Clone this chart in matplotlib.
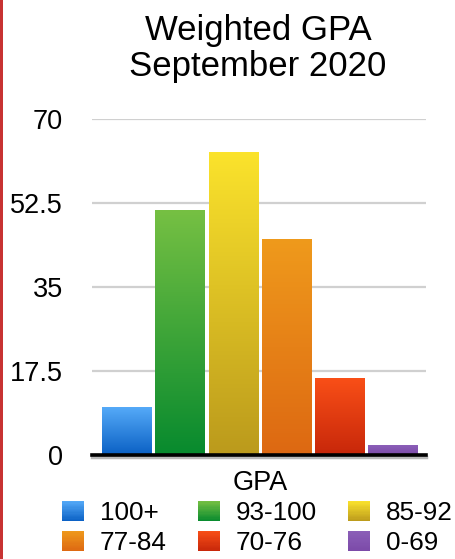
import numpy as np
import matplotlib
matplotlib.use("Agg")
import matplotlib.pyplot as plt
from matplotlib.patches import Rectangle
from matplotlib.colors import LinearSegmentedColormap, to_rgb
from matplotlib.legend_handler import HandlerBase

plt.rcParams["font.family"] = ["Liberation Sans", "DejaVu Sans"]

# data
labels = ["100+", "93-100", "85-92", "77-84", "70-76", "0-69"]
counts = [10, 51, 63, 45, 16, 2]
category = "GPA"
yticks = [0, 17.5, 35, 52.5, 70]
ytick_labels = ["0", "17.5", "35", "52.5", "70"]

# gradient colours (top, bottom) per series
grad_top = ["#55aaf8", "#76c043", "#fbe32c", "#ef9a1c", "#f94f17", "#8b5fb8"]
grad_bot = ["#0a60c4", "#078a2e", "#bb9a1c", "#dd6812", "#c7270a", "#7c4aa8"]

fs = 19.5
leg_fs = 18.8

fig = plt.figure(figsize=(4.55, 5.59), dpi=100)
ax = fig.add_axes([92 / 455, 1 - 455 / 559, (426 - 92) / 455, (455 - 119) / 559])

x = np.arange(len(counts))
width = 0.92
bars = ax.bar(x, counts, width, color="none", zorder=2)

# fill each bar with a vertical gradient
for b, top, bot in zip(bars, grad_top, grad_bot):
    cmap = LinearSegmentedColormap.from_list("g", [bot, top])
    x0, y0 = b.get_x(), b.get_y()
    w, h = b.get_width(), b.get_height()
    grad = np.linspace(0, 1, 256).reshape(-1, 1)
    ax.imshow(grad, cmap=cmap, origin="lower", aspect="auto",
              extent=(x0, x0 + w, y0, y0 + h), zorder=2)

ax.set_xlim(-0.65, 5.62)
ax.set_ylim(0, 70)

ax.set_yticks(yticks)
ax.set_yticklabels(ytick_labels, fontsize=fs)
ax.tick_params(axis="y", length=0, pad=21)
ax.set_xticks([x.mean()])
ax.set_xticklabels([category], fontsize=fs)
ax.tick_params(axis="x", length=0, pad=11)

ax.grid(axis="y", color="#d0d0d0", linewidth=1.6, zorder=0)
for s in ax.spines.values():
    s.set_visible(False)
ax.axhline(-0.35, color="#b8b8b8", linewidth=2.5, zorder=3, clip_on=False)
ax.axhline(0, color="black", linewidth=2.6, zorder=4, clip_on=False)


class GradHandler(HandlerBase):
    def create_artists(self, legend, orig_handle, xdescent, ydescent,
                       width, height, fontsize, trans):
        top, bot = orig_handle
        top, bot = np.array(to_rgb(top)), np.array(to_rgb(bot))
        n = 16
        arts = []
        for i in range(n):
            t = (i + 0.5) / n
            c = bot * (1 - t) + top * t
            r = Rectangle((-xdescent, -ydescent + i * height / n), width,
                          height / n + 0.05, facecolor=c, edgecolor="none",
                          transform=trans)
            arts.append(r)
        return arts


handles = list(zip(grad_top, grad_bot))
order = [0, 3, 1, 4, 2, 5]
em = leg_fs * 100 / 72
leg = fig.legend([handles[i] for i in order], [labels[i] for i in order],
                 handler_map={tuple: GradHandler()},
                 loc="upper left", bbox_to_anchor=(62 / 455, 1 - 501 / 559),
                 ncol=3, frameon=False, fontsize=leg_fs, borderpad=0,
                 borderaxespad=0, handlelength=22 / em, handleheight=21 / em,
                 handletextpad=16 / em, columnspacing=31 / em,
                 labelspacing=0.22)

fig.text(258 / 455, 1 - 14 / 559, "Weighted GPA\nSeptember 2020",
         ha="center", va="top", fontsize=25, linespacing=1.13)

# red border on the left edge
fig.add_artist(Rectangle((0, 0), 2.5 / 455, 1, transform=fig.transFigure,
                         facecolor="#c83232", edgecolor="none"))

fig.savefig("out.png", dpi=100)
